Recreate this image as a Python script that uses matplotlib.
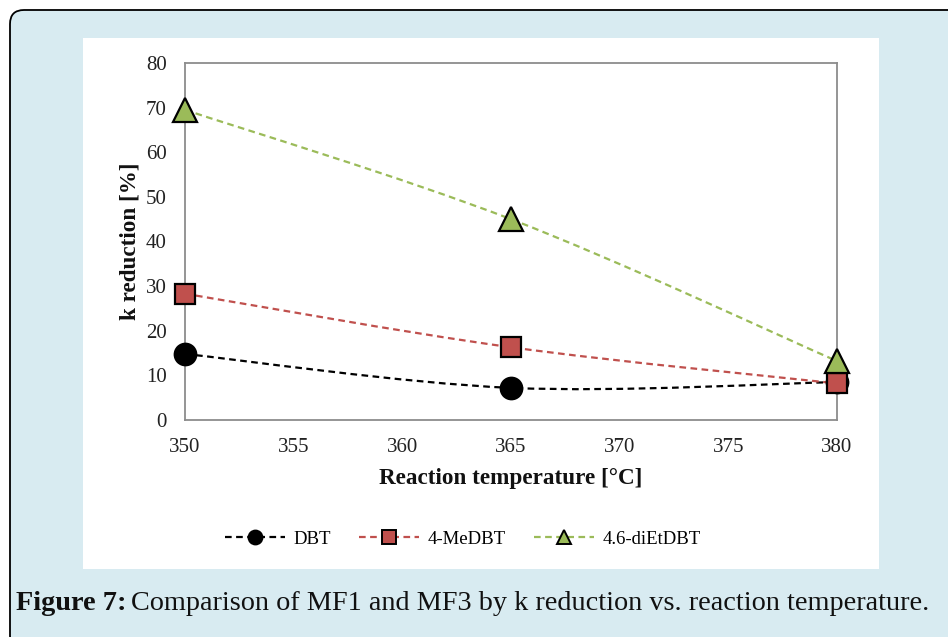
# k reduction vs reaction temperature, MF1 vs MF3 comparison

import numpy as np
import matplotlib.pyplot as plt
from matplotlib.path import Path
from matplotlib.patches import PathPatch, FancyBboxPatch, Rectangle
from matplotlib.lines import Line2D

# data
temperature = [350, 365, 380]
dbt = [14.8, 7.2, 8.5]
medbt = [28.3, 16.3, 8.2]
dietdbt = [69.5, 45.0, 13.2]

series_names = ['DBT', '4-MeDBT', '4.6-diEtDBT']
line_colors = ['#000000', '#c0504d', '#9bbb59']
face_colors = ['#000000', '#c0504d', '#9bbb59']
markers = ['o', 's', '^']
x_ticks = [350, 355, 360, 365, 370, 375, 380]
y_ticks = [0, 10, 20, 30, 40, 50, 60, 70, 80]

W, H = 948, 637
SERIF = ['Liberation Serif', 'DejaVu Serif']


def smooth_path(xs, ys):
    '''Excel-like smoothed line: cubic bezier through the points.'''
    pts = np.column_stack([xs, ys]).astype(float)
    n = len(pts)
    verts = [pts[0]]
    codes = [Path.MOVETO]
    for i in range(n - 1):
        p0 = pts[max(i - 1, 0)]
        p1 = pts[i]
        p2 = pts[i + 1]
        p3 = pts[min(i + 2, n - 1)]
        c1 = p1 + (p2 - p0) / 6.0
        c2 = p2 - (p3 - p1) / 6.0
        verts += [c1, c2, p2]
        codes += [Path.CURVE4] * 3
    return Path(verts, codes)


fig = plt.figure(figsize=(W / 100, H / 100), dpi=100, facecolor='white')

# background in pixel coordinates
bg = fig.add_axes([0, 0, 1, 1], zorder=0)
bg.set_xlim(0, W)
bg.set_ylim(H, 0)
bg.axis('off')
bg.add_patch(FancyBboxPatch((10, 10), 980, 640, boxstyle='round,pad=0,rounding_size=14',
                            facecolor='#d8ebf1', edgecolor='black', linewidth=1.3))
bg.add_patch(Rectangle((83, 38), 796, 531, facecolor='white', edgecolor='none'))

# caption
t1 = bg.text(16, 610, 'Figure 7:', fontsize=20.3, fontweight='bold', family=SERIF,
             va='baseline', ha='left', color='#111111')
fig.canvas.draw()
bb = t1.get_window_extent()
bg.text(bb.x1 + 5, 610, 'Comparison of MF1 and MF3 by k reduction vs. reaction temperature.',
        fontsize=20.3, family=SERIF, va='baseline', ha='left', color='#111111')

# main chart
ax = fig.add_axes([185 / W, 1 - 420 / H, (837 - 185) / W, (420 - 63) / H], zorder=1)
ax.set_facecolor('white')

all_series = [dbt, medbt, dietdbt]
for vals, lc in zip(all_series, line_colors):
    ax.add_patch(PathPatch(smooth_path(temperature, vals), facecolor='none', edgecolor=lc,
                           linestyle=(0, (3, 2)), linewidth=1.6, zorder=2))

ms = {'o': 15.5, 's': 15, '^': 17}
for vals, fc, m in zip(all_series, face_colors, markers):
    ax.plot(temperature, vals, linestyle='none', marker=m, markersize=ms[m],
            markerfacecolor=fc, markeredgecolor='black', markeredgewidth=1.6, zorder=3,
            clip_on=False)

ax.set_xlim(350, 380)
ax.set_ylim(0, 80)
ax.set_xticks(x_ticks)
ax.set_yticks(y_ticks)
ax.tick_params(length=0, labelsize=15, pad=13)
for lab in ax.get_xticklabels() + ax.get_yticklabels():
    lab.set_family(SERIF)
    lab.set_color('#222222')
for s in ax.spines.values():
    s.set_color('#8c8c8c')
    s.set_linewidth(1.3)

ax.set_xlabel('Reaction temperature [\u00b0C]', fontsize=16.7, fontweight='bold',
              family=SERIF, labelpad=8, color='#111111')
ax.set_ylabel('k reduction [%]', fontsize=16.7, fontweight='bold', family=SERIF,
              labelpad=4, color='#111111')

handles = [Line2D([], [], color=lc, linestyle=(0, (3, 2)), linewidth=1.6, marker=m,
                  markersize=10, markerfacecolor=fc, markeredgecolor='black',
                  markeredgewidth=1.4)
           for lc, fc, m in zip(line_colors, face_colors, markers)]
fig.legend(handles, series_names, loc='center', bbox_to_anchor=(463 / W, 1 - 539 / H),
           ncol=3, frameon=False, handlelength=3.2, columnspacing=1.5, handletextpad=0.45,
           prop={'family': SERIF, 'size': 13.5})

fig.savefig('out.png', dpi=100, facecolor='white')
